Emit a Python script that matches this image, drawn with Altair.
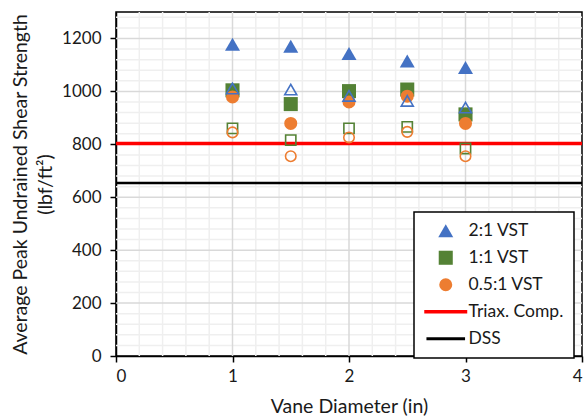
import altair as alt
import pandas as pd

# ---- data ----
diameters = [1, 1.5, 2, 2.5, 3]
vst21_filled = [1178, 1171, 1143, 1115, 1090]
vst21_open = [1011, 1007, 983, 964, 939]
vst11_filled = [1004, 952, 1001, 1007, 913]
vst11_open = [860, 816, 860, 866, 784]
vst051_filled = [979, 879, 960, 982, 879]
vst051_open = [845, 755, 826, 847, 755]
triax_comp = 803
dss = 654

series_names = ["2:1 VST", "1:1 VST", "0.5:1 VST", "Triax. Comp.", "DSS"]
series_colors = ["#4472C4", "#548235", "#ED7D31", "#FF0000", "#000000"]
line_path = "M-3.6,-0.28H3.6V0.28H-3.6Z"
series_shapes = ["triangle-up", "square", "circle", line_path, line_path]
series_sizes = [225, 115, 113, 110, 110]

x_major = [1, 2, 3]
x_minor = [v / 10 for v in range(2, 40, 2) if v % 10 != 0]
y_major = [200, 400, 600, 800, 1000, 1200]
y_minor = [v for v in range(40, 1300, 40) if v % 200 != 0]

FONT = "Lato"
TEXT = "#1a1a1a"

filled = pd.DataFrame(
    [{"d": d, "v": v, "s": "1:1 VST"} for d, v in zip(diameters, vst11_filled)]
    + [{"d": d, "v": v, "s": "0.5:1 VST"} for d, v in zip(diameters, vst051_filled)]
    + [{"d": d, "v": v, "s": "2:1 VST"} for d, v in zip(diameters, vst21_filled)]
)

xs = alt.Scale(domain=[0, 4], nice=False)
ys = alt.Scale(domain=[0, 1300], nice=False)

grid_minor_x = alt.Chart(pd.DataFrame({"g": x_minor})).mark_rule(
    color="#efefef", strokeWidth=1.5
).encode(x=alt.X("g:Q", scale=xs))
grid_minor_y = alt.Chart(pd.DataFrame({"g": y_minor})).mark_rule(
    color="#efefef", strokeWidth=1.5
).encode(y=alt.Y("g:Q", scale=ys))
grid_major_x = alt.Chart(pd.DataFrame({"g": x_major})).mark_rule(
    color="#d9d9d9", strokeWidth=1.5
).encode(x=alt.X("g:Q", scale=xs))
grid_major_y = alt.Chart(pd.DataFrame({"g": y_major})).mark_rule(
    color="#d9d9d9", strokeWidth=1.5
).encode(y=alt.Y("g:Q", scale=ys))

triax_rule = alt.Chart(pd.DataFrame({"v": [triax_comp]})).mark_rule(
    color="#FF0000", strokeWidth=3.5
).encode(y=alt.Y("v:Q", scale=ys))
dss_rule = alt.Chart(pd.DataFrame({"v": [dss]})).mark_rule(
    color="#000000", strokeWidth=2.5
).encode(y=alt.Y("v:Q", scale=ys))

leg = alt.Legend(title=None, orient="none", legendX=298, legendY=200)

points = alt.Chart(filled).mark_point(filled=True, opacity=1).encode(
    x=alt.X(
        "d:Q", scale=xs,
        axis=alt.Axis(values=[0, 1, 2, 3, 4], title="Vane Diameter (in)", grid=False,
                      format="d"),
    ),
    y=alt.Y(
        "v:Q", scale=ys,
        axis=alt.Axis(values=[0, 200, 400, 600, 800, 1000, 1200],
                      title=["Average Peak Undrained Shear Strength", "(lbf/ft²)"],
                      grid=False, format="d"),
    ),
    color=alt.Color("s:N", scale=alt.Scale(domain=series_names, range=series_colors), legend=leg),
    shape=alt.Shape("s:N", scale=alt.Scale(domain=series_names, range=series_shapes), legend=leg),
    size=alt.Size("s:N", scale=alt.Scale(domain=series_names, range=series_sizes), legend=leg),
)


def open_layer(vals, color, shape, size):
    df = pd.DataFrame({"d": diameters, "v": vals})
    return alt.Chart(df).mark_point(
        filled=False, shape=shape, color=color, strokeWidth=1.6, size=size, opacity=1
    ).encode(x=alt.X("d:Q", scale=xs), y=alt.Y("v:Q", scale=ys))


open_sq = open_layer(vst11_open, "#548235", "square", 105)
open_ci = open_layer(vst051_open, "#ED7D31", "circle", 110)
open_tr = open_layer(vst21_open, "#4472C4", "triangle-up", 145)

chart = alt.layer(
    grid_minor_x, grid_minor_y, grid_major_x, grid_major_y,
    triax_rule, dss_rule,
    points, open_sq, open_ci, open_tr,
).properties(
    width=466, height=344,
    autosize=alt.AutoSizeParams(type="none"),
    padding={"left": 116, "top": 12, "right": 2, "bottom": 63},
).configure_view(
    stroke="#000000", strokeWidth=1.5
).configure_axis(
    labelFont=FONT, titleFont=FONT, labelFontSize=17, titleFontSize=19.5,
    labelColor=TEXT, titleColor=TEXT, titleFontWeight="normal",
    domainColor="#000000", domainWidth=1.5, tickColor="#000000", tickSize=6,
    tickWidth=1.5, labelPadding=6,
).configure_axisY(
    titlePadding=6, titleLineHeight=25, labelPadding=9,
).configure_axisX(
    titlePadding=13,
).configure_legend(
    labelFont=FONT, labelFontSize=17.5, labelColor=TEXT,
    strokeColor="#000000", strokeWidth=1.5, fillColor="#ffffff",
    padding=10, symbolOffset=13, labelOffset=14,
    rowPadding=8, symbolStrokeWidth=0, symbolOpacity=1,
)

chart.save("out.html", embed_options={"renderer": "svg", "actions": False})
